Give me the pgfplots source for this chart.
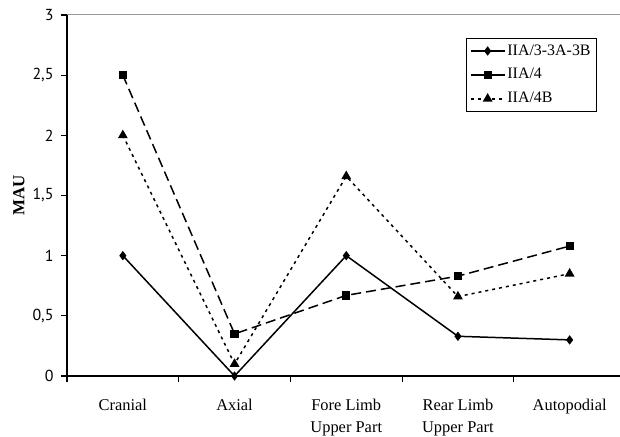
\documentclass[border=0pt]{standalone}
\usepackage{fontspec}
\setmainfont{Liberation Serif}
\newfontfamily\ticksans{PT Sans}
\usepackage{pgfplots}
\pgfplotsset{compat=1.18}
\begin{document}
\fontsize{16}{18}\selectfont
\begin{tikzpicture}
\begin{axis}[
  scale only axis, width=558.5bp, height=361bp,
  xmin=0.5, xmax=5.5, ymin=0, ymax=3,
  axis x line*=bottom, axis y line*=left,
  axis line style={line width=1.6bp, -},
  xtick={1,2,3,4,5},
  xticklabels={Cranial,Axial,{Fore Limb\\Upper Part},{Rear Limb\\Upper Part},Autopodial},
  major x tick style={draw=none},
  minor xtick={0.5,1.5,2.5,3.5,4.5},
  minor tick length=6bp, major tick length=6bp,
  every tick/.style={black, line width=1.1bp},
  ytick={0,0.5,1,1.5,2,2.5,3},
  tick align=outside,
  /pgf/number format/use comma,
  /pgf/number format/assume math mode=true,
  yticklabel style={font=\ticksans\fontsize{16}{18}\selectfont, xshift=-2bp},
  xticklabel style={align=center, font=\fontsize{16.5}{22}\selectfont, yshift=-12bp},
  ylabel={\textbf{MAU}},
  ylabel style={at={(axis description cs:-0.086,0.5)}, anchor=center, font=\fontsize{17}{19}\selectfont},
  legend style={at={(rel axis cs:0.949,0.936)}, anchor=north east, draw=black, line width=0.8bp,
    font=\fontsize{16}{18}\selectfont, row sep=7bp, inner sep=4bp},
  legend cell align=left,
  legend image code/.code={\draw[mark repeat=2,mark phase=2,#1] plot coordinates {(0bp,0bp)(17bp,0bp)(34bp,0bp)};},
  every axis plot/.append style={black, line width=1.5bp},
]
\addplot[solid, mark=diamond*, mark size=3.5bp, mark options={solid}] coordinates {
  (1,1) (2,0) (3,1) (4,0.33) (5,0.30)};
\addlegendentry{IIA/3-3A-3B}
\addplot[dash pattern=on 10bp off 5bp, mark=square*, mark size=3.4bp, mark options={solid},
  legend image post style={solid}] coordinates {
  (1,2.5) (2,0.35) (3,0.67) (4,0.83) (5,1.08)};
\addlegendentry{IIA/4}
\addplot[dash pattern=on 3bp off 4bp, mark=triangle*, mark size=4.2bp, mark options={solid}] coordinates {
  (1,2.0) (2,0.10) (3,1.66) (4,0.66) (5,0.85)};
\addlegendentry{IIA/4B}
\draw[gray!80, line width=1bp] (rel axis cs:0,1) -- (rel axis cs:1,1);
\coordinate (O) at (rel axis cs:0,0);
\end{axis}
\pgfresetboundingbox
\path[use as bounding box] ([xshift=-67bp,yshift=-61bp]O) rectangle ([xshift=553bp,yshift=376bp]O);
\end{tikzpicture}
\end{document}
